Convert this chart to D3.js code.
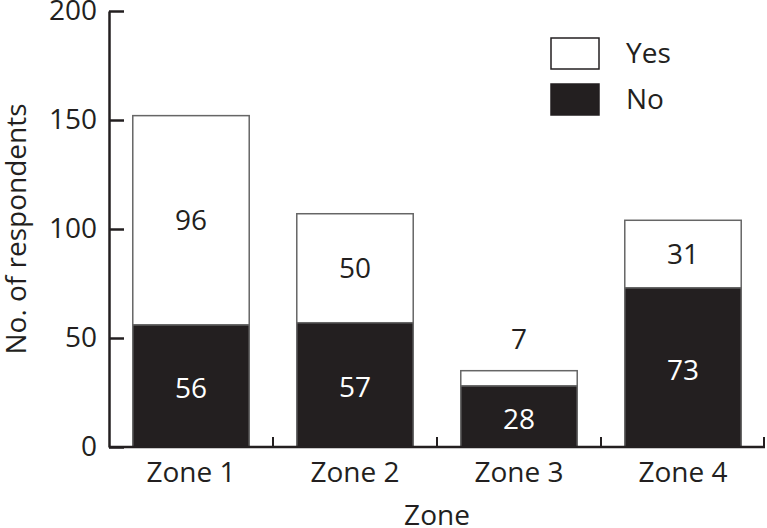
<!DOCTYPE html>
<html lang="en">
<head>
    <meta charset="UTF-8">
    <title>Respondents by zone</title>
    <script src="https://d3js.org/d3.v7.min.js"></script>
    <style>
        body { margin: 0; background: #fff; }
        text { font-family: "Open Sans", sans-serif; fill: #231f20; }
    </style>
</head>
<body>
<script>

    // data
    var zones = ["Zone 1", "Zone 2", "Zone 3", "Zone 4"];
    var noValues = [56, 57, 28, 73];
    var yesValues = [96, 50, 7, 31];
    var yTicks = [0, 50, 100, 150, 200];

    var width = 767;
    var height = 528;
    var fontSize = 28;

    var svg = d3.select("body")
        .append("svg")
        .attr("width", width)
        .attr("height", height);

    var x = d3.scaleBand()
        .domain(zones)
        .range([109, 765])
        .paddingInner(0.29)
        .paddingOuter(0.145);

    var y = d3.scaleLinear()
        .domain([0, 200])
        .range([447, 11]);

    var rows = zones.map(function(z, i) {
        return { zone: z, no: noValues[i], yes: yesValues[i] };
    });

    // bars - yes part sits on top of no part
    var bar = svg.selectAll(".bar")
        .data(rows)
        .enter()
        .append("g")
        .attr("class", "bar");

    bar.append("rect")
        .attr("x", function(d) { return x(d.zone); })
        .attr("width", x.bandwidth())
        .attr("y", function(d) { return y(d.no + d.yes); })
        .attr("height", function(d) { return y(d.no) - y(d.no + d.yes); })
        .attr("fill", "#fff")
        .attr("stroke", "#666")
        .attr("stroke-width", 1.5);

    bar.append("rect")
        .attr("x", function(d) { return x(d.zone); })
        .attr("width", x.bandwidth())
        .attr("y", function(d) { return y(d.no); })
        .attr("height", function(d) { return y(0) - y(d.no); })
        .attr("fill", "#231f20")
        .attr("stroke", "#666")
        .attr("stroke-width", 1.5);

    // value labels
    bar.append("text")
        .attr("x", function(d) { return x(d.zone) + x.bandwidth() / 2; })
        .attr("y", function(d) { return y(d.no / 2) + 2; })
        .attr("dy", "0.36em")
        .attr("text-anchor", "middle")
        .style("font-size", fontSize + "px")
        .style("fill", "#fff")
        .text(function(d) { return d.no; });

    bar.append("text")
        .attr("x", function(d) { return x(d.zone) + x.bandwidth() / 2; })
        .attr("y", function(d) {
            // small segment: put the label above the bar
            if (y(d.no) - y(d.no + d.yes) < 30) return y(d.no + d.yes) - 32;
            return y(d.no + d.yes / 2);
        })
        .attr("dy", "0.36em")
        .attr("text-anchor", "middle")
        .style("font-size", fontSize + "px")
        .text(function(d) { return d.yes; });

    // y axis
    var yAxis = svg.append("g")
        .attr("transform", "translate(109,0)")
        .call(d3.axisLeft(y).tickValues(yTicks).tickSizeInner(-15).tickSizeOuter(0).tickPadding(12));

    yAxis.select(".domain").attr("stroke", "#231f20").attr("stroke-width", 2.5);
    yAxis.selectAll(".tick line").attr("stroke", "#231f20").attr("stroke-width", 2.5);
    yAxis.selectAll(".tick text")
        .style("font-family", "'Open Sans', sans-serif")
        .style("font-size", fontSize + "px")
        .attr("fill", "#231f20");

    // x axis - line with ticks at band boundaries
    svg.append("line")
        .attr("x1", 109).attr("x2", 765)
        .attr("y1", y(0)).attr("y2", y(0))
        .attr("stroke", "#231f20")
        .attr("stroke-width", 2.5);

    var bounds = zones.slice(1).map(function(z) { return x(z) - x.step() * x.paddingInner() / 2; });
    bounds.push(765 - 1);

    svg.selectAll(".xtick")
        .data(bounds)
        .enter()
        .append("line")
        .attr("class", "xtick")
        .attr("x1", function(d) { return d; })
        .attr("x2", function(d) { return d; })
        .attr("y1", y(0))
        .attr("y2", y(0) - 10)
        .attr("stroke", "#231f20")
        .attr("stroke-width", 2);

    svg.selectAll(".xlabel")
        .data(zones)
        .enter()
        .append("text")
        .attr("class", "xlabel")
        .attr("x", function(d) { return x(d) + x.bandwidth() / 2; })
        .attr("y", 482)
        .attr("text-anchor", "middle")
        .style("font-size", fontSize + "px")
        .text(function(d) { return d; });

    // axis titles
    svg.append("text")
        .attr("x", 437)
        .attr("y", 525)
        .attr("text-anchor", "middle")
        .style("font-size", fontSize + "px")
        .text("Zone");

    svg.append("text")
        .attr("transform", "translate(26,229) rotate(-90)")
        .attr("text-anchor", "middle")
        .style("font-size", fontSize + "px")
        .text("No. of respondents");

    // legend
    var legendItems = [
        { label: "Yes", fill: "#fff" },
        { label: "No", fill: "#231f20" }
    ];

    var legend = svg.selectAll(".legend")
        .data(legendItems)
        .enter()
        .append("g")
        .attr("class", "legend")
        .attr("transform", function(d, i) { return "translate(551," + (38 + i * 46) + ")"; });

    legend.append("rect")
        .attr("width", 48)
        .attr("height", 31)
        .attr("fill", function(d) { return d.fill; })
        .attr("stroke", "#231f20")
        .attr("stroke-width", 1.5);

    legend.append("text")
        .attr("x", 75)
        .attr("y", 25)
        .style("font-size", fontSize + "px")
        .text(function(d) { return d.label; });

</script>
</body>
</html>
